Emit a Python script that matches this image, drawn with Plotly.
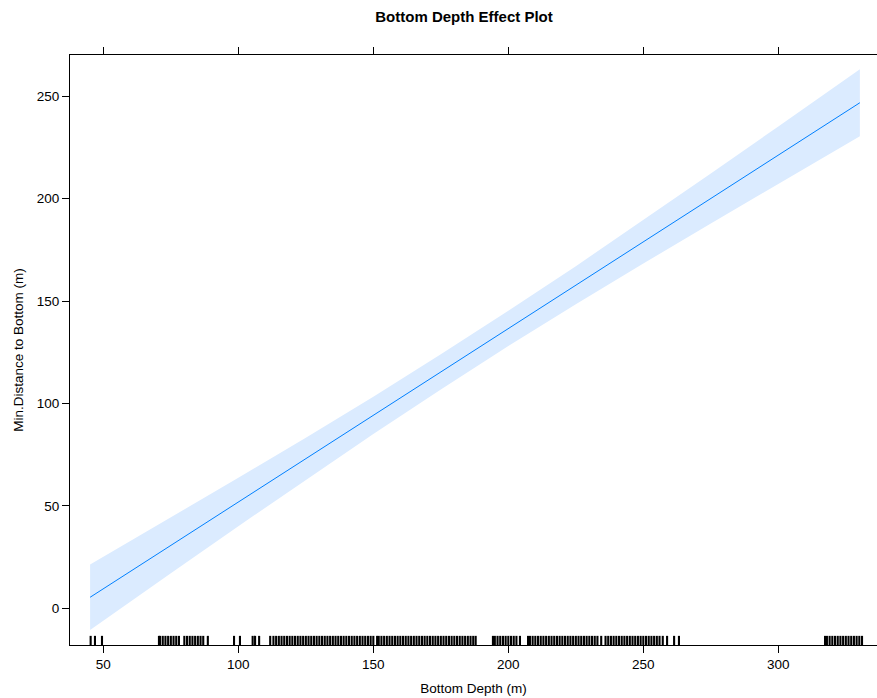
import plotly.graph_objects as go

# Fitted effect of bottom depth with its confidence band
depth = [45.1, 75, 100, 125, 150, 175, 200, 225, 250, 275, 300, 330.2]
fit = [5.4, 30.7, 51.9, 73.0, 94.2, 115.4, 136.6, 157.7, 178.9, 200.1, 221.2, 246.8]
upper = [21.4, 44.3, 63.7, 83.3, 103.3, 124.0, 145.2, 167.0, 189.5, 212.3, 235.2, 263.2]
lower = [-10.6, 17.1, 40.1, 62.7, 85.1, 106.8, 128.0, 148.4, 168.3, 187.9, 207.2, 230.4]

# Observed bottom depths (rug)
obs_depth = [
    45.3, 46.9, 49.5,
    70.6, 71, 72, 73, 74, 75, 76, 77, 78, 80, 81, 82, 83, 84, 85, 86, 87, 88.7,
    98.4, 100.6, 105.3, 106.2, 107.7,
    111.8, 113, 114, 115, 116, 117, 118, 119, 120, 121, 122, 123, 124, 125, 126,
    127, 128, 129, 130, 131, 132, 133, 134, 135, 136, 137, 138, 139, 140, 141,
    142, 143, 144, 145, 146, 147, 148, 149, 150, 151.4, 152, 153, 154, 155, 156,
    157, 158, 159, 160, 161, 162, 163, 164, 165, 166, 167, 168, 169, 170, 171,
    172, 173, 174, 175, 176, 177, 178, 179, 180, 181, 182, 183, 184, 185, 186,
    187, 187.9,
    194.3, 195, 196, 197, 198, 199, 200, 201, 202, 203, 204.3,
    207.3, 208, 209, 210, 211, 212, 213, 214, 215, 216, 217, 218, 219, 220, 221,
    222, 223, 224, 225, 226, 227, 228, 229, 230, 231, 232, 233, 234.4, 236, 237,
    238, 239, 240, 241, 242, 243, 244, 245, 246, 247, 248, 249, 250, 251, 252,
    253, 254, 255, 256, 257.2, 258.8, 261.4, 263.2,
    317.3, 318, 319, 320, 321, 322, 323, 324, 325, 326, 327, 328, 329, 330, 331,
]

x_range = [37.65, 336.55]
y_range = [-17.9, 270.1]
x_ticks = [50, 100, 150, 200, 250, 300]
y_ticks = [0, 50, 100, 150, 200, 250]

line_blue = "#0080ff"
band_blue = "#dbebff"
font_family = "Liberation Sans, Arial, Helvetica, sans-serif"

fig = go.Figure()

# Confidence band
fig.add_trace(go.Scatter(
    x=depth + depth[::-1],
    y=upper + lower[::-1],
    fill="toself", fillcolor=band_blue,
    line=dict(width=0), mode="lines",
    hoverinfo="skip", showlegend=False,
))

# Fitted line
fig.add_trace(go.Scatter(
    x=depth, y=fit, mode="lines",
    line=dict(color=line_blue, width=1),
    showlegend=False,
))

# Rug along the bottom of the panel
rug_lo = y_range[0]
rug_hi = y_range[0] + 0.0155 * (y_range[1] - y_range[0])
rx, ry = [], []
for d in obs_depth:
    rx += [d, d, None]
    ry += [rug_lo, rug_hi, None]
fig.add_trace(go.Scatter(
    x=rx, y=ry, mode="lines",
    line=dict(color="black", width=2.1),
    hoverinfo="skip", showlegend=False,
))

axis_common = dict(
    showgrid=False, zeroline=False, automargin=False,
    showline=True, linecolor="black", linewidth=1,
    mirror="ticks", ticks="outside", ticklen=7, tickwidth=1, tickcolor="black",
    tickfont=dict(family=font_family, size=13.5, color="black"),
)

fig.update_xaxes(
    range=x_range, tickvals=x_ticks, ticktext=[str(v) for v in x_ticks],
    title=dict(text="Bottom Depth (m)", font=dict(family=font_family, size=13.5, color="black"), standoff=12),
    **axis_common,
)
fig.update_yaxes(
    range=y_range, tickvals=y_ticks, ticktext=[str(v) for v in y_ticks],
    title=dict(text="Min.Distance to Bottom (m)", font=dict(family=font_family, size=13.5, color="black"), standoff=10),
    **axis_common,
)

fig.update_layout(
    width=877, height=698,
    margin=dict(l=70, r=0, t=55, b=53, autoexpand=False),
    paper_bgcolor="white", plot_bgcolor="white",
    title=dict(
        text="<b>Bottom Depth Effect Plot</b>",
        font=dict(family=font_family, size=15, color="black"),
        x=(464 - 70) / 807, xref="paper", xanchor="center",
        y=1 - 17 / 698, yref="container", yanchor="middle",
    ),
)

fig.write_html("out.html")
